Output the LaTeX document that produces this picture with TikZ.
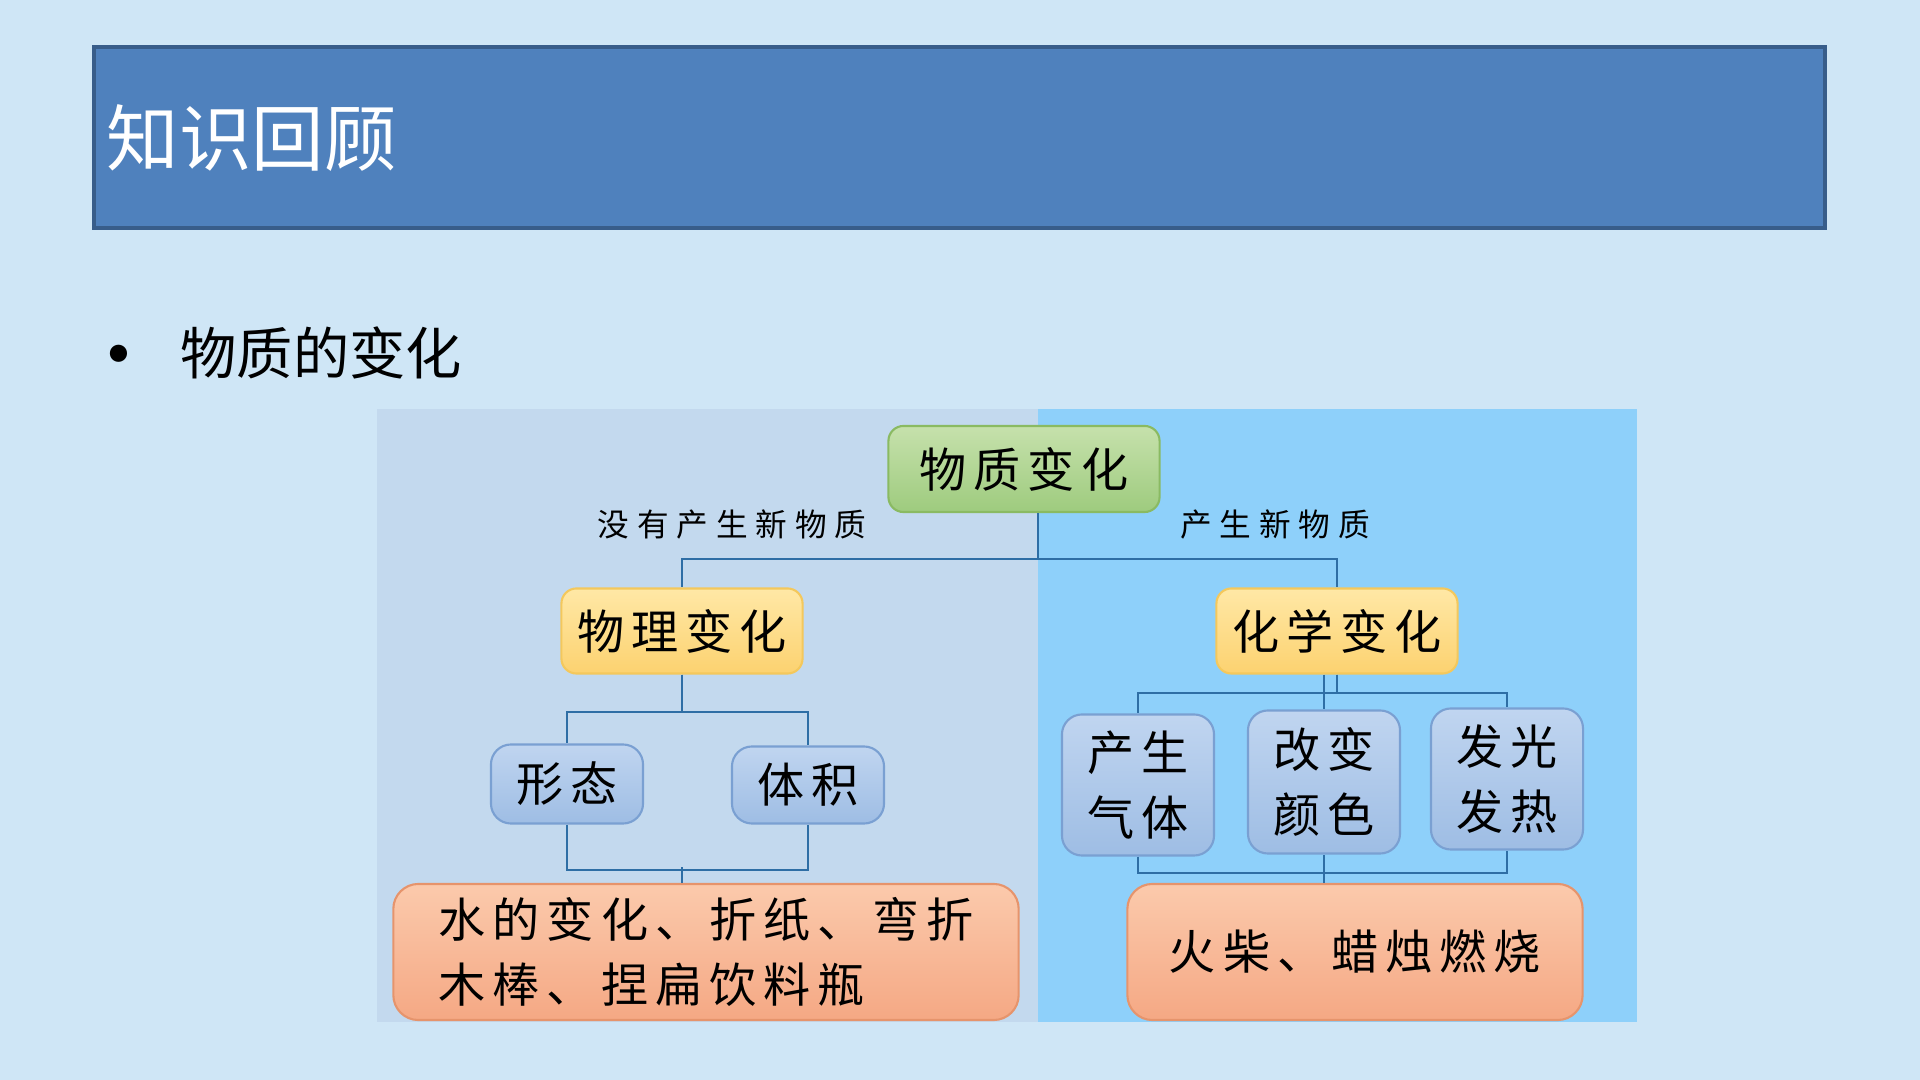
\documentclass[tikz,border=0pt]{standalone}
\usepackage{fontspec}
\setmainfont{Noto Sans CJK SC}
\newfontfamily\heiti{Noto Sans CJK SC}
\newfontfamily\kaiti[LetterSpace=15]{Noto Sans CJK SC}
\newfontfamily\kaitilabel[LetterSpace=25]{Noto Sans CJK SC}

\definecolor{pagebg}{RGB}{207,230,246}
\definecolor{titlefill}{RGB}{79,129,189}
\definecolor{titleline}{RGB}{56,93,138}
\definecolor{panelleft}{RGB}{195,217,238}
\definecolor{panelright}{RGB}{142,208,250}
\definecolor{linkblue}{RGB}{46,110,165}
\definecolor{greentop}{RGB}{198,225,172}
\definecolor{greenbot}{RGB}{158,203,126}
\definecolor{greenline}{RGB}{138,186,98}
\definecolor{yellowtop}{RGB}{255,232,166}
\definecolor{yellowbot}{RGB}{252,210,112}
\definecolor{yellowline}{RGB}{244,200,92}
\definecolor{bluetop}{RGB}{192,213,240}
\definecolor{bluebot}{RGB}{158,189,228}
\definecolor{blueline}{RGB}{122,160,210}
\definecolor{orangetop}{RGB}{251,202,172}
\definecolor{orangebot}{RGB}{245,168,132}
\definecolor{orangeline}{RGB}{230,148,108}

\tikzset{
  link/.style={draw=linkblue, line width=0.6pt},
  kbox/.style={rounded corners=0.15cm, line width=0.6pt, align=center, inner sep=0pt,
    font=\kaiti\fontsize{13.4pt}{18.6pt}\selectfont},
  rootnode/.style={kbox, draw=greenline, top color=greentop, bottom color=greenbot,
    minimum width=2.71cm, minimum height=0.86cm},
  kindnode/.style={kbox, draw=yellowline, top color=yellowtop, bottom color=yellowbot,
    minimum width=2.41cm, minimum height=0.85cm},
  featnode/.style={kbox, rounded corners=0.2cm, draw=blueline, top color=bluetop, bottom color=bluebot,
    minimum width=1.52cm},
  casenode/.style={kbox, rounded corners=0.25cm, draw=orangeline, top color=orangetop, bottom color=orangebot,
    minimum height=1.36cm},
  branchlabel/.style={inner sep=0pt, font=\kaitilabel\fontsize{9pt}{11pt}\selectfont}
}

\begin{document}
\begin{tikzpicture}[x=0.01cm, y=-0.01cm]
\useasboundingbox (0,0) rectangle (1920,1080);
\fill[pagebg] (0,0) rectangle (1920,1080);

% Title bar
\draw[titleline, fill=titlefill, line width=1pt] (94,47) rectangle (1825,228);
\node[anchor=west, text=white, inner sep=0pt, font=\heiti\fontsize{20.6pt}{24pt}\selectfont] (title) at (106,138) {知识回顾};

% Bullet
\node[inner sep=0pt, font=\heiti\fontsize{23pt}{27pt}\selectfont] (dot) at (119,365) {•};
\node[anchor=west, inner sep=0pt, font=\heiti\fontsize{16pt}{20pt}\selectfont] (topic) at (180,353) {物质的变化};

% Panels
\fill[panelleft] (377,409) rectangle (1038,1022);
\fill[panelright] (1038,409) rectangle (1637,1022);
\coordinate (split) at (1038,409);

% Nodes
\node[rootnode] (root) at (1024,469) {物质变化};
\node[branchlabel] (nolabel) at (732,525) {没有产生新物质};
\node[branchlabel] (yeslabel) at (1275,525) {产生新物质};

\node[kindnode] (phys) at (682,631) {物理变化};
\node[kindnode] (chem) at (1337,631) {化学变化};

\node[featnode, minimum height=0.79cm] (form) at (567,784) {形态};
\node[featnode, minimum height=0.77cm] (vol) at (808,785) {体积};

\node[featnode, minimum height=1.41cm] (gas) at (1138,785) {产生\\气体};
\node[featnode, minimum height=1.43cm] (color) at (1324,782) {改变\\颜色};
\node[featnode, minimum height=1.41cm] (light) at (1507,779) {发光\\发热};

\node[casenode, align=left, minimum width=6.25cm] (physcase) at (706,952) {水的变化、折纸、弯折\\木棒、捏扁饮料瓶};
\node[casenode, minimum width=4.55cm] (chemcase) at (1355,952) {火柴、蜡烛燃烧};

% Links
\draw[link] (root.south -| split) -- ++(0,46) -| (phys.north);
\draw[link] (root.south -| split) -- ++(0,46) -| (chem.north);

\draw[link] (phys.south) -- ++(0,37) -| (form.north);
\draw[link] (phys.south) -- ++(0,37) -| (vol.north);
\draw[link] (form.south) -- ++(0,45) -| (vol.south);
\draw[link] (physcase.north -| phys.south) -- ++(0,-16);

\draw[link] (chem.south) -- ++(0,18) -| (gas.north);
\draw[link] (chem.south) -- ++(0,18) -| (light.north);
\draw[link] (chem.south -| color.north) -- (color.north);
\draw[link] (gas.south) -- ++(0,16) -| (light.south);
\draw[link] (chemcase.north -| color.south) -- (color.south);

\end{tikzpicture}
\end{document}
